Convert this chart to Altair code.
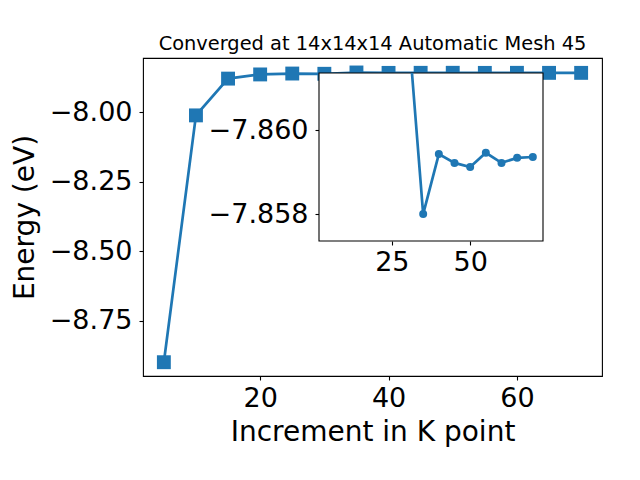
import altair as alt
import pandas as pd

# Data
kpoints = [5, 10, 15, 20, 25, 30, 35, 40, 45, 50, 55, 60, 65, 70]
energy = [-8.898, -8.012, -7.880, -7.865, -7.8618, -7.8627, -7.8580,
          -7.85943, -7.85922, -7.85912, -7.85946, -7.85922, -7.85934, -7.85936]

main_xticks = [20, 40, 60]
main_yticks = [-8.75, -8.50, -8.25, -8.00]
inset_xticks = [25, 50]
inset_yticks = [-7.860, -7.858]

X_DOM = [1.75, 73.25]
MAIN_Y_DOM = [-8.9475, -7.806]
INSET_Y_DOM = [-7.86136, -7.85736]   # shown inverted: smaller value at the top

W, H = 459, 318
INSET_X_RANGE = [176, 400]
INSET_Y_RANGE = [15, 183]

BLUE = "#1f77b4"
FONT = "DejaVu Sans"

df = pd.DataFrame({"k": kpoints, "e": energy})
base = alt.Chart(df)

# ---------- main panel ----------
mx = alt.X("k:Q", scale=alt.Scale(domain=X_DOM, nice=False, zero=False),
           axis=alt.Axis(values=main_xticks, title="Increment in K point",
                         titlePadding=7, labelPadding=5, orient="bottom"))
my = alt.Y("e:Q", scale=alt.Scale(domain=MAIN_Y_DOM, nice=False, zero=False),
           axis=alt.Axis(values=main_yticks, format=".2f", title="Energy (eV)",
                         titlePadding=10, labelPadding=7, orient="left"))

main_line = base.mark_line(color=BLUE, strokeWidth=2.7).encode(x=mx, y=my)
main_pts = base.mark_square(color=BLUE, size=193, opacity=1, filled=True).encode(x=mx, y=my)
main = alt.layer(main_line, main_pts)

# ---------- inset panel (own scales mapped into a sub-rectangle) ----------
TOP = INSET_Y_DOM[0]
ix_scale = alt.Scale(domain=X_DOM, range=INSET_X_RANGE, nice=False, zero=False)
iy_scale = alt.Scale(domain=INSET_Y_DOM, range=INSET_Y_RANGE, nice=False, zero=False)
ix_axis = alt.Axis(values=inset_xticks, title=None, labelPadding=4, orient="bottom",
                   offset=-(H - INSET_Y_RANGE[1]))
iy_axis = alt.Axis(values=inset_yticks, format=".3f", title=None, labelPadding=7,
                   orient="left", offset=-INSET_X_RANGE[0])

box = alt.Chart(alt.Data(values=[{}])).mark_rect(
    fill="white", stroke="black", strokeWidth=1.1
).encode(
    x=alt.X(datum=X_DOM[0], scale=ix_scale, axis=ix_axis),
    x2=alt.X2(datum=X_DOM[1]),
    y=alt.Y(datum=INSET_Y_DOM[0], scale=iy_scale, axis=iy_axis),
    y2=alt.Y2(datum=INSET_Y_DOM[1]),
)

# clip the inset line at the top edge of the inset window
clipped = base.transform_window(
    k_next="lead(k)", e_next="lead(e)", sort=[alt.SortField("k")]
).transform_filter(
    f"datum.e >= {TOP} || (isValid(datum.e_next) && datum.e_next >= {TOP})"
).transform_calculate(
    kc=f"datum.e < {TOP} ? datum.k + (datum.k_next - datum.k) * ({TOP} - datum.e) / (datum.e_next - datum.e) : datum.k",
    ec=f"datum.e < {TOP} ? {TOP} : datum.e",
)

inset_line = clipped.mark_line(color=BLUE, strokeWidth=2.7).encode(
    x=alt.X("kc:Q", scale=ix_scale, axis=ix_axis),
    y=alt.Y("ec:Q", scale=iy_scale, axis=iy_axis),
)
inset_pts = base.transform_filter(f"datum.e >= {TOP}").mark_circle(
    color=BLUE, size=64, opacity=1
).encode(
    x=alt.X("k:Q", scale=ix_scale, axis=ix_axis),
    y=alt.Y("e:Q", scale=iy_scale, axis=iy_axis),
)
inset = alt.layer(box, inset_line, inset_pts)

chart = alt.layer(main, inset).resolve_scale(
    x="independent", y="independent"
).resolve_axis(
    x="independent", y="independent"
).properties(
    width=W, height=H,
    title=alt.TitleParams("Converged at 14x14x14 Automatic Mesh 45", fontSize=19.4,
                          font=FONT, fontWeight="normal", color="black",
                          baseline="alphabetic", offset=-11, frame="group", anchor="middle"),
    padding={"left": 3, "top": 25, "right": 5, "bottom": 5},
    background="white",
).configure_view(
    stroke="black", strokeWidth=1.1, fill="white"
).configure_axis(
    grid=False, domain=False, tickColor="black", tickWidth=1.1, tickSize=4,
    labelColor="black", labelFont=FONT, labelFontSize=27,
    titleColor="black", titleFont=FONT, titleFontSize=28, titleFontWeight="normal",
)

chart.save("out.html", embed_options={"renderer": "svg", "actions": False})
